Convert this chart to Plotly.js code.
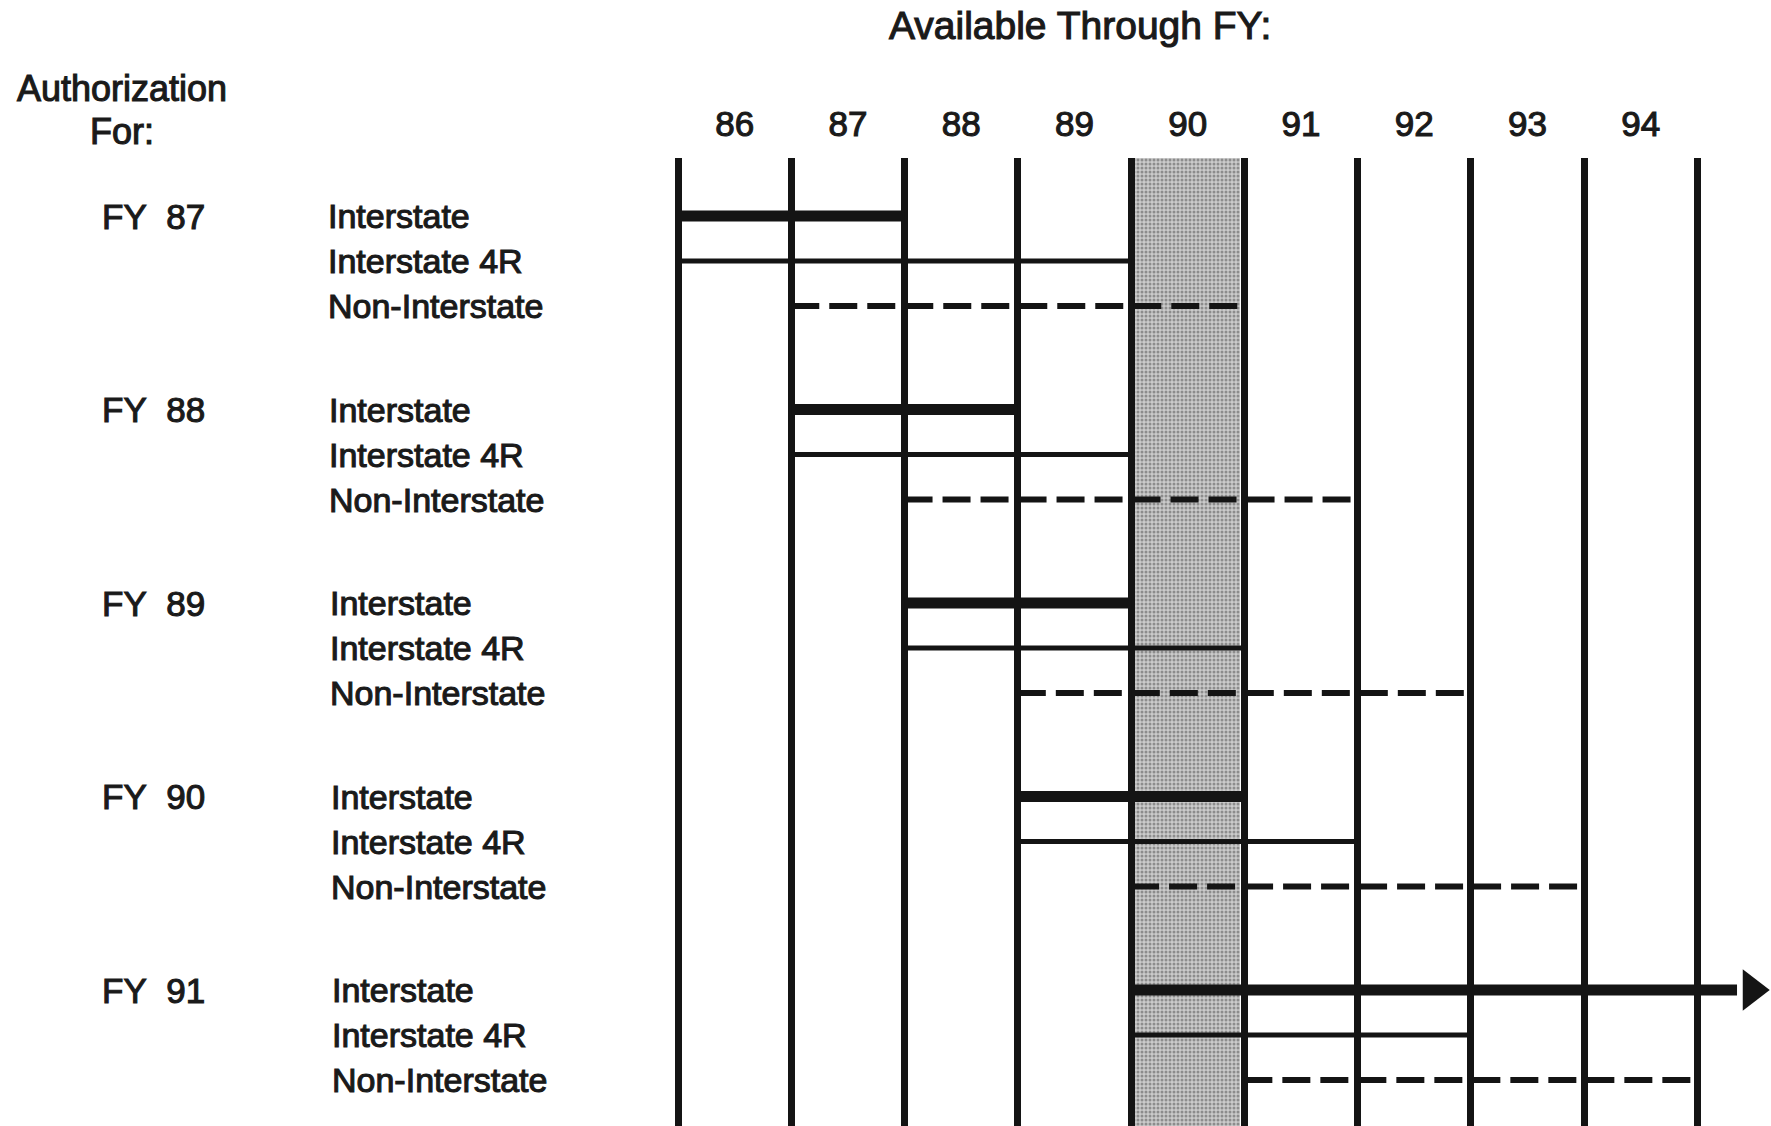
<!DOCTYPE html>
<html>
<head>
<meta charset="utf-8">
<script src="https://cdn.plot.ly/plotly-3.0.1.min.js"></script>
<style>
  html, body { margin: 0; padding: 0; background: #fff; }
  #chart { width: 1771px; height: 1126px; }
  #chart svg text { stroke: #1a1a1a; stroke-width: 1.1px; }
</style>
</head>
<body>
<div id="chart"></div>
<script>
// ---------------- data ----------------
const fiscalYears = [86, 87, 88, 89, 90, 91, 92, 93, 94];          // "Available Through FY" columns
const tickLabels = ["86", "87", "88", "89", "90", "91", "92", "93", "94"];
const authorizationFY = ["FY\u00a0\u00a087", "FY\u00a0\u00a088", "FY\u00a0\u00a089", "FY\u00a0\u00a090", "FY\u00a0\u00a091"];
const fundTypes = ["Interstate", "Interstate 4R", "Non-Interstate"];
const currentFY = 90;                                              // shaded column

// first and last FY each authorization is available (null = open-ended, arrow)
const interstateStart = [86, 87, 88, 89, 90];
const interstateEnd   = [87, 88, 89, 90, null];
const fourRStart      = [86, 87, 88, 89, 90];
const fourREnd        = [89, 89, 90, 91, 92];
const nonIntStart     = [87, 88, 89, 90, 91];
const nonIntEnd       = [90, 91, 92, 93, 94];

// ---------------- layout helpers ----------------
const W = 1771, H = 1126;
const PLOT_TOP = 158;
const X0PX = 678, XSCALE = 113.27;     // pixel of first column boundary, px per FY
const ROW0PX = 216, ROWPX = 45, GAP = 1.3;
const xMin = (fiscalYears[0] - 0.5) - X0PX / XSCALE;
const xMax = (fiscalYears[0] - 0.5) + (W - X0PX) / XSCALE;
const yBottom = (H - ROW0PX) / ROWPX;
const yTop = (PLOT_TOP - ROW0PX) / ROWPX;
const rowY = (g, s) => g * (3 + GAP) + s;
const paperX = px => px / W;
const paperY = px => (H - px) / (H - PLOT_TOP);
const ARROW_LINE_END = xMax - 0.3;
const ARROW_HEAD_X = xMax - 0.17;

const boundaries = fiscalYears.map(y => y - 0.5).concat([fiscalYears[fiscalYears.length - 1] + 0.5]);

function segTrace(starts, ends, sub, style) {
  const x = [], y = [];
  starts.forEach((s, g) => {
    const e = ends[g] === null ? ARROW_LINE_END : ends[g] + 0.5;
    x.push(s - 0.5, e, null);
    y.push(rowY(g, sub), rowY(g, sub), null);
  });
  return Object.assign({
    type: 'scatter', mode: 'lines', x: x, y: y, hoverinfo: 'skip',
    showlegend: false, cliponaxis: false, connectgaps: false
  }, style);
}

const ink = '#141414';
const traces = [];

// shaded current-year column (stippled grey)
traces.push({
  type: 'bar', x: [currentFY], y: [yBottom - yTop], base: [yTop], width: [0.93],
  marker: { color: '#c2c2c2', line: { width: 0 },
            pattern: { shape: '.', fgcolor: '#8c8c8c', bgcolor: '#cbcbcb', size: 4, solidity: 0.45 } },
  hoverinfo: 'skip', showlegend: false
});

traces.push(segTrace(interstateStart, interstateEnd, 0, { line: { color: ink, width: 11 }, name: fundTypes[0] }));
traces.push(segTrace(fourRStart, fourREnd, 1, { line: { color: ink, width: 5 }, name: fundTypes[1] }));
traces.push(segTrace(nonIntStart, nonIntEnd, 2, { line: { color: ink, width: 6, dash: '28px,10px' }, name: fundTypes[2] }));

// arrow heads for open-ended authorizations
const arrowX = [], arrowY = [];
interstateEnd.forEach((e, g) => { if (e === null) { arrowX.push(ARROW_HEAD_X); arrowY.push(rowY(g, 0)); } });
traces.push({
  type: 'scatter', mode: 'markers', x: arrowX, y: arrowY, hoverinfo: 'skip', showlegend: false,
  cliponaxis: false,
  marker: { symbol: 'triangle-right', size: 36, color: ink, line: { width: 0 } }
});

const font = "'Liberation Sans', Arial, Helvetica, sans-serif";
const txt = '#1a1a1a';
const annotations = [];

annotations.push({ xref: 'paper', yref: 'paper', x: paperX(1080), y: paperY(26), text: 'Available Through FY:',
  showarrow: false, xanchor: 'center', yanchor: 'middle', font: { family: font, size: 39, color: txt } });
annotations.push({ xref: 'paper', yref: 'paper', x: paperX(122), y: paperY(89), text: 'Authorization',
  showarrow: false, xanchor: 'center', yanchor: 'middle', font: { family: font, size: 36, color: txt } });
annotations.push({ xref: 'paper', yref: 'paper', x: paperX(122), y: paperY(132), text: 'For:',
  showarrow: false, xanchor: 'center', yanchor: 'middle', font: { family: font, size: 36, color: txt } });

authorizationFY.forEach((lab, g) => {
  annotations.push({ xref: 'paper', yref: 'y', x: paperX(100), y: rowY(g, 0), text: lab,
    showarrow: false, xanchor: 'left', yanchor: 'middle', font: { family: font, size: 35, color: txt } });
  fundTypes.forEach((ft, s) => {
    annotations.push({ xref: 'paper', yref: 'y', x: paperX(326 + g), y: rowY(g, s), text: ft,
      showarrow: false, xanchor: 'left', yanchor: 'middle', font: { family: font, size: 34, color: txt } });
  });
});

const layout = {
  width: W, height: H,
  margin: { l: 0, r: 0, t: PLOT_TOP, b: 0, pad: 0 },
  paper_bgcolor: '#ffffff', plot_bgcolor: '#ffffff',
  showlegend: false, bargap: 0,
  xaxis: {
    range: [xMin, xMax], side: 'top', tickmode: 'array', tickvals: fiscalYears, ticktext: tickLabels,
    ticks: 'outside', ticklen: 7, tickcolor: 'rgba(0,0,0,0)',
    tickfont: { family: font, size: 35, color: txt },
    showgrid: false, zeroline: false, showline: false, fixedrange: true,
    minor: { tickmode: 'array', tickvals: boundaries, showgrid: true, gridcolor: ink, gridwidth: 7, ticks: '' }
  },
  yaxis: {
    range: [yBottom, yTop], visible: false, showgrid: false, zeroline: false, fixedrange: true
  },
  annotations: annotations
};

Plotly.newPlot('chart', traces, layout, { staticPlot: true, displayModeBar: false });
</script>
</body>
</html>
